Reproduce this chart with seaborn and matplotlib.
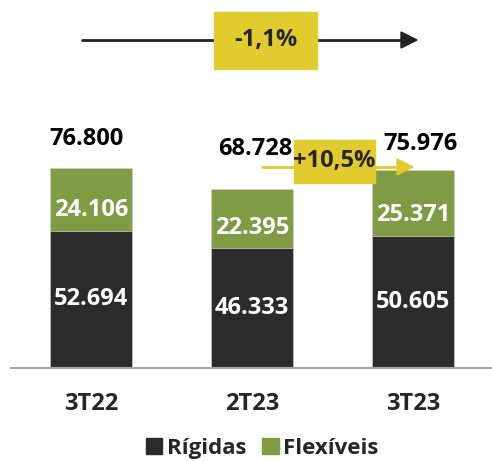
import numpy as np
import pandas as pd
import seaborn as sns
import matplotlib.pyplot as plt
from matplotlib.patches import Patch, Rectangle
from matplotlib.transforms import Affine2D

sns.set_style("white")
plt.rcParams["font.family"] = ["Open Sans", "DejaVu Sans"]

# data
quarters = ["3T22", "2T23", "3T23"]
rigidas = [52694, 46333, 50605]
flexiveis = [24106, 22395, 25371]
totals = [76800, 68728, 75976]
var_year = "-1,1%"
var_quarter = "+10,5%"

dark = "#2b2b2b"
green = "#7f9c45"
yellow = "#e2cb2f"

df = pd.DataFrame({"trimestre": quarters, "rigidas": rigidas,
                   "flexiveis": flexiveis, "total": totals})

W, H = 492, 461
fig = plt.figure(figsize=(W / 100, H / 100), dpi=100)
ax = fig.add_axes([11 / W, (H - 368) / H, 481 / W, 368 / H])

sns.barplot(data=df, x="trimestre", y="total", color=green, width=0.51,
            saturation=1, ax=ax, edgecolor="#d0d0d0", linewidth=0.5)
sns.barplot(data=df, x="trimestre", y="rigidas", color=dark, width=0.51,
            saturation=1, ax=ax, edgecolor="#d0d0d0", linewidth=0.5)

fs = 17

ax.set_xlim(-0.497, 2.491)
ax.set_ylim(0, 368 / 0.0026)
ax.set_xlabel("")
ax.set_ylabel("")
ax.set_yticks([])
for s in ["top", "right", "left"]:
    ax.spines[s].set_visible(False)
ax.spines["bottom"].set_color("#a6a6a6")
ax.spines["bottom"].set_linewidth(1.5)
ax.tick_params(axis="x", length=0, pad=17, labelsize=fs)
for lab in ax.get_xticklabels():
    lab.set_fontweight("bold")

for i in range(len(quarters)):
    ax.text(i, rigidas[i] * 0.5, f"{rigidas[i]:,}".replace(",", "."),
            ha="center", va="center", color="white", fontsize=fs, fontweight="bold")
    ax.text(i, rigidas[i] + flexiveis[i] * 0.33, f"{flexiveis[i]:,}".replace(",", "."),
            ha="center", va="center", color="white", fontsize=fs, fontweight="bold")

# totals above bars (pixel placement)
px = Affine2D().scale(1 / W, -1 / H).translate(0, 1) + fig.transFigure
tot_pos = [(86, 139), (255, 149), (420, 144)]
for (x, y), t in zip(tot_pos, totals):
    fig.text(x, y, f"{t:,}".replace(",", "."), transform=px, ha="center",
             va="center", fontsize=fs, fontweight="bold", color="black")

# top arrow with yellow box
fig.add_artist(plt.Line2D([82, 402], [40, 40], transform=px, color="#222222", lw=2))
fig.add_artist(plt.Polygon([[401, 32], [417, 40], [401, 48]], closed=True,
                           transform=px, color="#222222"))
fig.add_artist(Rectangle((214, 12), 103, 57, transform=px, color=yellow, zorder=3))
fig.text(265.5, 40, var_year, transform=px, ha="center", va="center",
         fontsize=fs, fontweight="bold", zorder=4)

# quarter arrow with yellow box
fig.add_artist(plt.Line2D([262, 398], [167, 167], transform=px, color=yellow, lw=2))
fig.add_artist(plt.Polygon([[397, 159], [413, 167], [397, 175]], closed=True,
                           transform=px, color=yellow))
fig.add_artist(Rectangle((294, 140), 81, 43, transform=px, color=yellow, zorder=3))
fig.text(334.5, 161, var_quarter, transform=px, ha="center", va="center",
         fontsize=fs, fontweight="bold", zorder=4)

handles = [Patch(color=dark, label="Rígidas"), Patch(color=green, label="Flexíveis")]
fig.legend(handles=handles, loc="center", bbox_to_anchor=(262 / W, (H - 448) / H),
           ncol=2, frameon=False, prop={"size": 16, "weight": "bold"},
           handlelength=0.75, handleheight=0.75, handletextpad=0.2, columnspacing=0.7)

fig.savefig("out.png", dpi=100)
